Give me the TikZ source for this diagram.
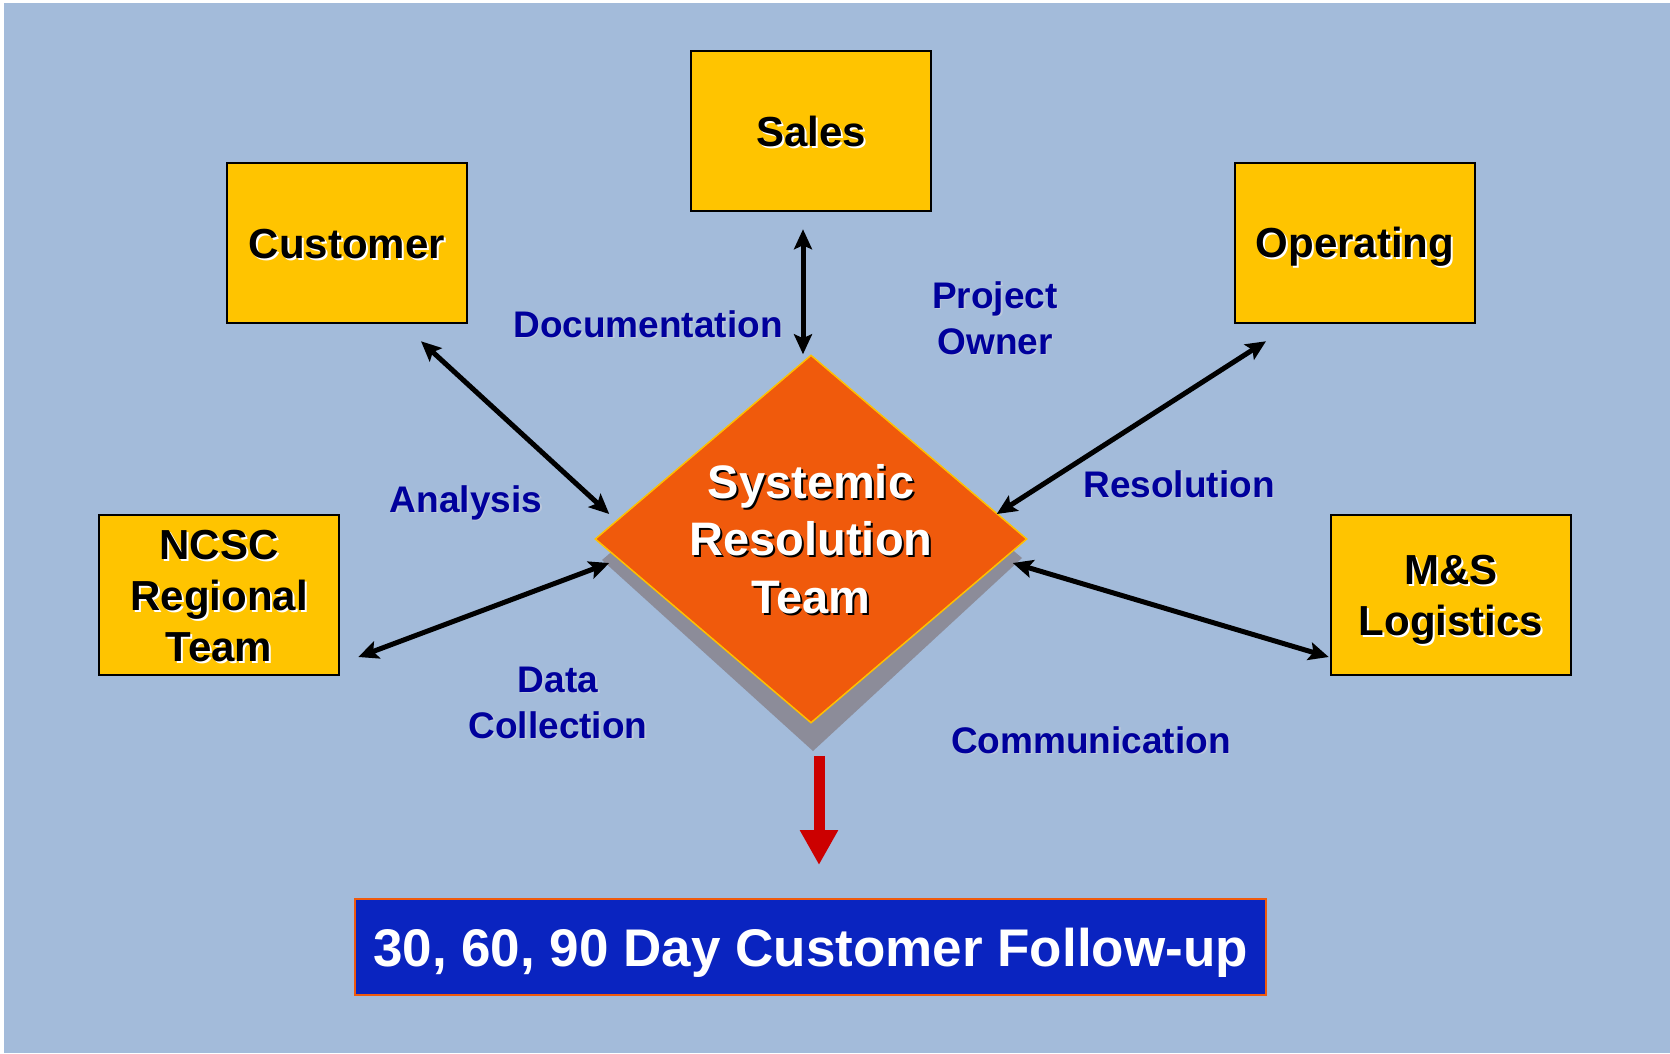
\documentclass[tikz,border=0pt]{standalone}
\usepackage{fontspec}
\setmainfont{Liberation Sans}
\usetikzlibrary{arrows.meta,calc,shapes.geometric}
\definecolor{bgblue}{HTML}{A3BBDA}
\definecolor{boxyellow}{HTML}{FFC400}
\definecolor{dorange}{HTML}{F05A0C}
\definecolor{dgold}{HTML}{FFC000}
\definecolor{shgray}{HTML}{8C8C99}
\definecolor{lblue}{HTML}{00009C}
\definecolor{lshadow}{HTML}{BCC8DC}
\definecolor{fblue}{HTML}{0A24C0}
\definecolor{rred}{HTML}{CC0000}
\newcommand\shd[3]{\leavevmode\rlap{\kern2pt\raisebox{-2pt}{\textcolor{#2}{#3}}}\textcolor{#1}{#3}}
\newcommand\lsh[1]{\leavevmode\rlap{\kern1.5pt\raisebox{-1.5pt}{\textcolor{lshadow}{#1}}}\textcolor{lblue}{#1}}
\newcommand\tstr{\rule{0pt}{0.97em}}
\newcommand\bstr{\rule[-0.25em]{0pt}{0.25em}}
\newcommand\ostr{\rule[-0.25em]{0pt}{1.22em}}
\begin{document}
\begin{tikzpicture}[x=1pt,y=-1pt,
  unitbox/.style={draw=black, line width=2.5pt, fill=boxyellow, minimum width=240pt,
    minimum height=160pt, inner sep=0pt, align=center,
    font=\fontsize{42}{51}\selectfont\bfseries},
  lbl/.style={text=lblue, align=center, inner sep=0pt,
    font=\fontsize{37}{46}\selectfont\bfseries},
  biarrow/.style={line width=5pt, black,
    {Stealth[length=20pt,width=18pt,inset=4pt]}-{Stealth[length=20pt,width=18pt,inset=4pt]}},
  srttext/.style={align=center, inner sep=0pt, font=\fontsize{47}{57.5}\selectfont\bfseries}
]
\useasboundingbox (0,0) rectangle (1670,1053);
\fill[white] (0,0) rectangle (1670,1053);
\fill[bgblue] (4,3) rectangle (1670,1053);

% shadow of the diamond
\fill[shgray] (602,560) -- (813,751) -- (1022,558) -- (812,380) -- cycle;
\node[shape=diamond, minimum width=432pt, minimum height=368pt, inner sep=0pt,
  fill=dorange, draw=dgold, line width=1.5pt] (srt) at (811,539) {};
\node[srttext] (srtlabel) at (srt.center)
  {\tstr\shd{white}{black}{Systemic}\\\shd{white}{black}{Resolution}\\\shd{white}{black}{Team}\bstr};

\node[unitbox] (sales) at (811,131) {\ostr\shd{black}{white}{Sales}};
\node[unitbox] (cust) at (347,243) {\ostr\shd{black}{white}{Customer}};
\node[unitbox] (oper) at (1355,243) {\ostr\shd{black}{white}{Operating}};
\node[unitbox] (ncsc) at (219,595) {\tstr\shd{black}{white}{NCSC}\\\shd{black}{white}{Regional}\\\shd{black}{white}{Team}\bstr};
\node[unitbox] (ms) at (1451,595) {\tstr\shd{black}{white}{M\&S}\\\shd{black}{white}{Logistics}\bstr};

\node[draw=dorange, line width=2pt, fill=fblue, minimum width=911pt, minimum height=96pt,
  inner sep=0pt, text=white, font=\fontsize{53}{60}\selectfont\bfseries] (follow) at (810.5,947)
  {\ostr 30, 60, 90 Day Customer Follow-up};

\node[lbl] (ldoc) at (648,324) {\ostr\lsh{Documentation}};
\node[lbl] (lproj) at (995,318) {\tstr\lsh{Project}\\\lsh{Owner}\bstr};
\node[lbl] (lana) at (466,499) {\ostr\lsh{Analysis}};
\node[lbl] (lres) at (1179,484) {\ostr\lsh{Resolution}};
\node[lbl] (ldata) at (558,702) {\tstr\lsh{Data}\\\lsh{Collection}\bstr};
\node[lbl] (lcomm) at (1091,740) {\ostr\lsh{Communication}};

\draw[biarrow] ($(sales.south)+(-8,17)$) -- ($(srt.north)+(-8,0)$);
\draw[biarrow] ($(cust.south)+(74,17)$) -- ($(srt.west)+(15,-25)$);
\draw[biarrow] ($(oper.south)+(-89,17)$) -- ($(srt.east)+(-31,-25)$);
\draw[biarrow] ($(srt.west)+(15,24)$) -- ($(ncsc.east)+(18,62)$);
\draw[biarrow] ($(srt.east)+(-15,24)$) -- ($(ms.west)+(-1,62)$);

\draw[line width=11pt, rred, -{Triangle[length=35pt,width=36pt]}]
  ($(srt.south)+(8,32)$) -- ($(follow.north)+(8.5,-33)$);
\end{tikzpicture}
\end{document}
